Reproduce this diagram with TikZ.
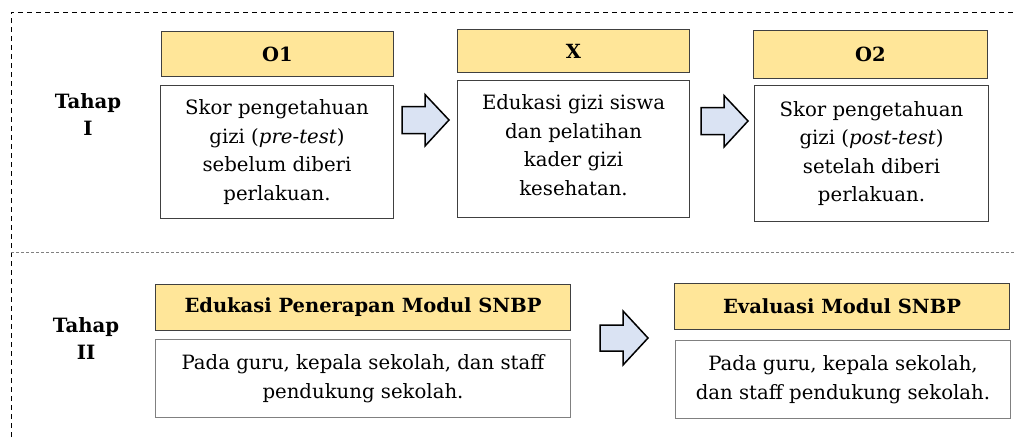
\documentclass[tikz,border=0pt]{standalone}
\usepackage{fontspec}
\setmainfont{DejaVu Serif}
\definecolor{hdrfill}{HTML}{FFE699}
\definecolor{arrfill}{HTML}{DAE3F3}
\definecolor{edge}{HTML}{404040}
\begin{document}
\begin{tikzpicture}[x=1pt,y=-1pt,
  hdr/.style={draw=edge,fill=hdrfill,line width=1pt,anchor=north west,inner sep=0pt,
    font=\fontsize{19.5}{27}\selectfont\bfseries},
  bodybox/.style={draw=edge,fill=white,line width=1pt,anchor=north west,inner sep=0pt,
    align=center,font=\fontsize{19.7}{28.5}\selectfont},
  bodytext/.style={align=center,inner sep=0pt,font=\fontsize{19.7}{28.5}\selectfont},
  tahap/.style={align=center,inner sep=0pt,font=\fontsize{19.7}{27}\selectfont\bfseries},
  blockarrow/.style={draw=black,fill=arrfill,line width=1.5pt,line join=miter}]
\useasboundingbox (0,0) rectangle (1016,437);
% frame
\draw[line width=0.8pt,dash pattern=on 5pt off 4pt] (11,437) -- (11,12) -- (1016,12);
\draw[line width=0.8pt,gray,dash pattern=on 3pt off 2pt] (11,252) -- (1016,252);
% Tahap I
\node[tahap] (t1) at (88,115) {Tahap\\I};
\node[hdr,minimum width=232pt,minimum height=45pt] (o1h) at (161,31) {O1};
\node[bodybox,minimum width=233pt,minimum height=133pt] (o1b) at (160,85)
  {Skor pengetahuan\\gizi (\textit{pre-test})\\sebelum diberi\\perlakuan.};
\node[hdr,minimum width=232pt,minimum height=43pt] (xh) at (457,29) {X};
\node[bodybox,minimum width=232pt,minimum height=137pt] (xb) at (457,80) {};
\node[bodytext] (xt) at ([yshift=4pt]xb.center)
  {Edukasi gizi siswa\\dan pelatihan\\kader gizi\\kesehatan.};
\node[hdr,minimum width=234pt,minimum height=48pt] (o2h) at (753,30) {O2};
\node[bodybox,minimum width=234pt,minimum height=136pt] (o2b) at (754,85)
  {Skor pengetahuan\\gizi (\textit{post-test})\\setelah diberi\\perlakuan.};
% arrows row 1
\coordinate (a1) at (402,120);
\draw[blockarrow] (a1) ++(0,-13.5) -- ++(23,0) -- ++(0,-12) -- (449,120) -- (425,146) -- (425,133.5) -- (402,133.5) -- cycle;
\coordinate (a2) at (701,121);
\draw[blockarrow] (a2) ++(0,-13.5) -- ++(23,0) -- ++(0,-12) -- (748,121) -- (724,147) -- (724,134.5) -- (701,134.5) -- cycle;
% Tahap II
\node[tahap] (t2) at (86,339) {Tahap\\II};
\node[hdr,minimum width=415pt,minimum height=46pt] (eh) at (155,284) {Edukasi Penerapan Modul SNBP};
\node[bodybox,draw=gray,minimum width=415pt,minimum height=78pt] (eb) at (155,339)
  {Pada guru, kepala sekolah, dan staff\\pendukung sekolah.};
\node[hdr,minimum width=335pt,minimum height=46pt] (vh) at (674,283) {Evaluasi Modul SNBP};
\node[bodybox,draw=gray,minimum width=335pt,minimum height=78pt] (vb) at (675,340)
  {Pada guru, kepala sekolah,\\dan staff pendukung sekolah.};
\coordinate (a3) at (600,338);
\draw[blockarrow] (a3) ++(0,-13) -- ++(23,0) -- ++(0,-14) -- (648,338) -- (623,365) -- (623,351) -- (600,351) -- cycle;
\end{tikzpicture}
\end{document}
